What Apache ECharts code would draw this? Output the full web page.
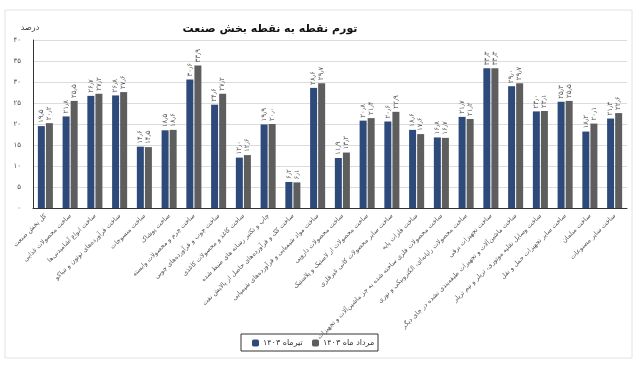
<!DOCTYPE html>
<html><head><meta charset="utf-8">
<script src="https://cdn.jsdelivr.net/npm/echarts@6/dist/echarts.min.js"></script>
<style>html,body{margin:0;padding:0;background:#fff}#c{width:640px;height:370px}</style>
</head><body><div id="c"></div>
<script>
const categories = [
  'کل بخش صنعت',
  'ساخت محصولات غذایی',
  'ساخت انواع آشامیدنی‌ها',
  'ساخت فرآورده‌های توتون و تنباکو',
  'ساخت منسوجات',
  'ساخت پوشاک',
  'ساخت چرم و محصولات وابسته',
  'ساخت چوب و فرآورده‌های چوبی',
  'ساخت کاغذ و محصولات کاغذی',
  'چاپ و تکثیر رسانه های ضبط شده',
  'ساخت کک و فرآورده‌های حاصل از پالایش نفت',
  'ساخت مواد شیمیایی و فرآورده‌های شیمیایی',
  'ساخت محصولات دارویی',
  'ساخت محصولات از لاستیک و پلاستیک',
  'ساخت سایر محصولات کانی غیرفلزی',
  'ساخت فلزات پایه',
  'ساخت محصولات فلزی ساخته شده به جز ماشین‌آلات و تجهیزات',
  'ساخت محصولات رایانه‌ای، الکترونیکی و نوری',
  'ساخت تجهیزات برقی',
  'ساخت ماشین‌آلات و تجهیزات طبقه‌بندی نشده در جای دیگر',
  'ساخت وسایل نقلیه موتوری، تریلر و نیم تریلر',
  'ساخت سایر تجهیزات حمل و نقل',
  'ساخت مبلمان',
  'ساخت سایر مصنوعات'
];
const tirValues = [19.5, 21.8, 26.7, 26.8, 14.6, 18.5, 30.6, 24.6, 12.0, 19.9, 6.2, 28.6, 11.9, 20.8, 20.6, 18.6, 16.8, 21.7, 33.3, 29.0, 23.0, 25.3, 18.2, 21.3];
const mordadValues = [20.2, 25.5, 27.2, 27.6, 14.5, 18.6, 33.9, 27.2, 12.6, 20.0, 6.1, 29.7, 13.2, 21.4, 22.9, 17.6, 16.7, 21.2, 33.3, 29.7, 23.1, 25.5, 20.1, 22.6];
const seriesNames = ['تیرماه ۱۴۰۳', 'مرداد ماه ۱۴۰۳'];
const yTicks = {min: 0, max: 40, interval: 5};

const fa = s => String(s).replace(/[0-9]/g, d => '۰۱۲۳۴۵۶۷۸۹'[d]).replace('.', '٫');
const fmt1 = v => fa(v.toFixed(1));
const FONT = 'DejaVu Sans';

const chart = echarts.init(document.getElementById('c'), null, {renderer: 'canvas'});
const labelCfg = {
  show: true, position: 'top', rotate: 90, align: 'left', verticalAlign: 'middle',
  distance: 3, fontSize: 7, color: '#555', fontFamily: FONT,
  formatter: p => fmt1(p.value)
};
chart.setOption({
  animation: false,
  textStyle: {fontFamily: FONT},
  graphic: [
    {type: 'rect', shape: {x: 5, y: 10, width: 627, height: 348}, style: {fill: 'none', stroke: '#e2e2e2', lineWidth: 1}, silent: true},
    {type: 'rect', shape: {x: 241, y: 334, width: 137, height: 17}, style: {fill: 'none', stroke: '#333', lineWidth: 1}, silent: true}
  ],
  title: {text: 'تورم نقطه به نقطه بخش صنعت', left: 265, top: 19, textAlign: 'center',
    textStyle: {fontSize: 11, fontWeight: 'bold', color: '#111', fontFamily: FONT}},
  legend: [
    {data: [seriesNames[0]], left: 252, top: 339, align: 'left', itemWidth: 7, itemHeight: 7, itemGap: 4,
      padding: 0, textStyle: {fontSize: 8, color: '#333', fontFamily: FONT, padding: [0, 0, 0, -1]}},
    {data: [seriesNames[1]], left: 312, top: 339, align: 'left', itemWidth: 7, itemHeight: 7, itemGap: 4,
      padding: 0, textStyle: {fontSize: 8, color: '#333', fontFamily: FONT, padding: [0, 0, 0, -1]}}
  ],
  grid: {left: 33, right: 13, top: 40, bottom: 162},
  xAxis: {
    type: 'category', data: categories,
    axisLine: {lineStyle: {color: '#333', width: 1}},
    axisTick: {show: false},
    axisLabel: {interval: 0, rotate: 45, fontSize: 6.5, color: '#555', margin: 7, fontFamily: FONT}
  },
  yAxis: {
    type: 'value', min: yTicks.min, max: yTicks.max, interval: yTicks.interval,
    name: 'درصد', nameLocation: 'end', nameGap: 8,
    nameTextStyle: {fontSize: 8, color: '#333', align: 'center', padding: [0, 0, 0, -6], fontFamily: FONT},
    axisLine: {show: true, lineStyle: {color: '#333', width: 1}},
    axisTick: {show: false},
    axisLabel: {fontSize: 7, color: '#555', margin: 12, formatter: v => fa(v), fontFamily: FONT},
    splitLine: {lineStyle: {color: '#dcdcdc', width: 1}}
  },
  series: [
    {name: seriesNames[0], type: 'bar', data: tirValues, barWidth: 7, barGap: '15%',
      itemStyle: {color: '#2e4a7b'}, label: labelCfg},
    {name: seriesNames[1], type: 'bar', data: mordadValues, barWidth: 7,
      itemStyle: {color: '#5e5e5e'}, label: labelCfg}
  ]
});
</script></body></html>
